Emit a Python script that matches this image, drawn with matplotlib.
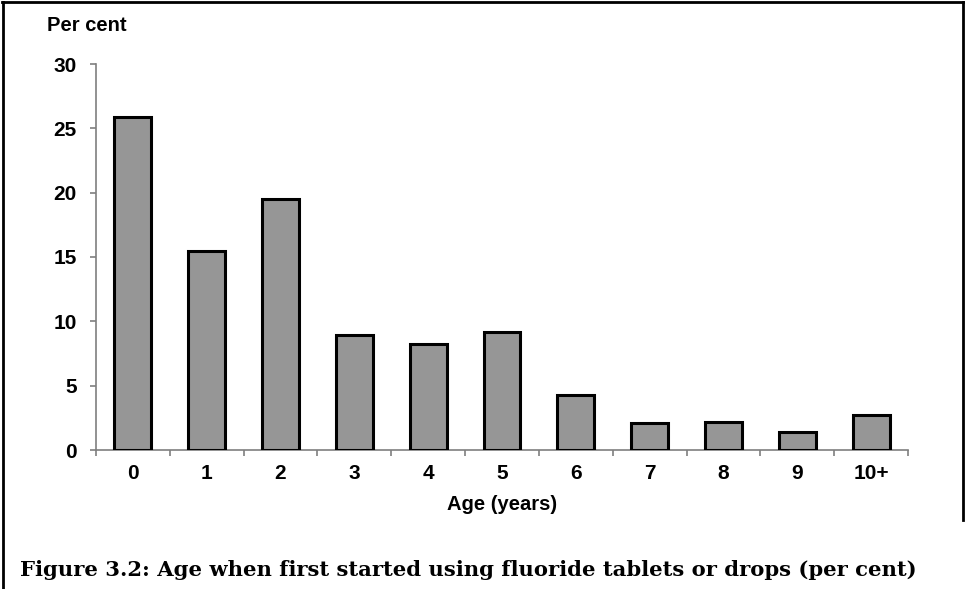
import matplotlib
matplotlib.use("Agg")
import matplotlib.pyplot as plt
from matplotlib.lines import Line2D

# Age when first started using fluoride tablets or drops
ages = ["0", "1", "2", "3", "4", "5", "6", "7", "8", "9", "10+"]
percent = [25.9, 15.5, 19.5, 8.9, 8.2, 9.2, 4.3, 2.1, 2.2, 1.4, 2.7]
y_ticks = [0, 5, 10, 15, 20, 25, 30]
caption = "Figure 3.2: Age when first started using fluoride tablets or drops (per cent)"

W, H = 966, 589
fig = plt.figure(figsize=(W / 100, H / 100), dpi=100)
ax = fig.add_axes([96 / W, 139 / H, 812 / W, 386 / H])

x = list(range(len(ages)))
ax.bar(x, percent, width=0.5, color="#969696", edgecolor="black", linewidth=2.2, zorder=3)

ax.set_xlim(-0.5, len(ages) - 0.5)
ax.set_ylim(0, 30)
ax.set_yticks(y_ticks)
ax.set_yticklabels([str(v) for v in y_ticks], fontsize=15, fontweight="bold", family="Liberation Sans")

# category labels in the middle, tick marks at the boundaries
ax.set_xticks(x)
ax.set_xticklabels(ages, fontsize=15, fontweight="bold", family="Liberation Sans")
ax.tick_params(axis="x", length=0, pad=10)
ax.set_xticks([i - 0.5 for i in range(len(ages) + 1)], minor=True)
ax.tick_params(axis="x", which="minor", length=4.5, width=1.2, color="#7f7f7f", direction="out")
ax.tick_params(axis="y", length=4.5, width=1.2, color="#7f7f7f", direction="out", pad=9.5)

for side in ["top", "right"]:
    ax.spines[side].set_visible(False)
for side in ["left", "bottom"]:
    ax.spines[side].set_color("#7f7f7f")
    ax.spines[side].set_linewidth(1.2)

ax.set_xlabel("Age (years)", fontsize=14.5, fontweight="bold", family="Liberation Sans", labelpad=9)
fig.text(47 / W, 1 - 31 / H, "Per cent", fontsize=14.5, fontweight="bold",
         family="Liberation Sans", va="baseline", ha="left")

# caption in a wide book serif: scale the size so it spans the same width as the original
cap = fig.text(20 / W, 1 - 576 / H, caption, fontsize=16, fontweight="bold",
               family="DejaVu Serif", va="baseline", ha="left")
renderer = fig.canvas.get_renderer()
w = cap.get_window_extent(renderer).width
cap.set_fontsize(16 * 895 / w)

# outer frame (left, top and upper right)
fig.add_artist(Line2D([3 / W, 3 / W], [0, 1 - 2 / H], transform=fig.transFigure, color="black", lw=2))
fig.add_artist(Line2D([2 / W, 963 / W], [1 - 2 / H, 1 - 2 / H], transform=fig.transFigure, color="black", lw=2))
fig.add_artist(Line2D([963 / W, 963 / W], [1 - 2 / H, 1 - 520 / H], transform=fig.transFigure, color="black", lw=2))

fig.savefig("out.png", dpi=100)
